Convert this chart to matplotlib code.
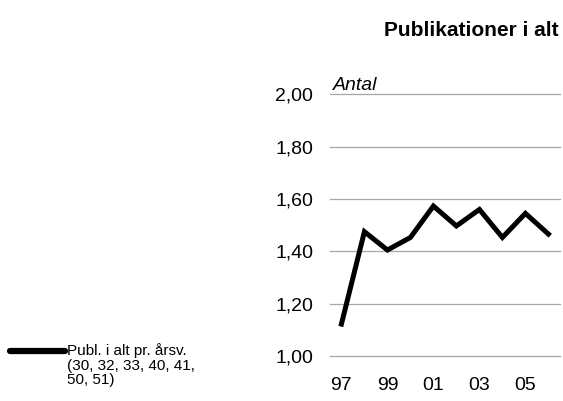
import matplotlib
matplotlib.use("Agg")
import matplotlib.pyplot as plt
from matplotlib.lines import Line2D

plt.rcParams['font.family'] = ['Liberation Sans', 'DejaVu Sans']

years = ["97", "98", "99", "00", "01", "02", "03", "04", "05", "06"]
values = [1.122, 1.475, 1.405, 1.453, 1.573, 1.497, 1.560, 1.453, 1.545, 1.466]
tick_labels = ["97", "99", "01", "03", "05"]
yticks = [1.0, 1.2, 1.4, 1.6, 1.8, 2.0]
legend_label = "Publ. i alt pr. årsv.\n(30, 32, 33, 40, 41,\n50, 51)"

fig = plt.figure(figsize=(5.63, 4.01), dpi=100)
ax = fig.add_axes([0.586, 0.1122, 0.4085, 0.6526])
x = list(range(len(years)))
ax.plot(x, values, color="black", lw=3.6, solid_joinstyle="miter", zorder=3)
ax.set_xlim(-0.5, len(years) - 0.5)
ax.set_ylim(1.0, 2.0)
ax.set_yticks(yticks)
ax.set_yticklabels([f"{v:.2f}".replace(".", ",") for v in yticks], fontsize=14)
ax.set_xticks([years.index(t) for t in tick_labels])
ax.set_xticklabels(tick_labels, fontsize=14)
ax.tick_params(length=0)
ax.tick_params(axis="y", pad=12)
ax.tick_params(axis="x", pad=15)
ax.grid(axis="y", color="#a6a6a6", lw=0.9)
for gl in ax.yaxis.get_gridlines():
    gl.set_clip_on(False)
for s in ax.spines.values():
    s.set_visible(False)

fig.text(0.592, 0.788, "Antal", fontsize=14, style="italic", ha="left", va="center")
fig.text(0.993, 0.925, "Publikationer i alt", fontsize=15, fontweight="bold",
         ha="right", va="center")

# legend key
fig.add_artist(Line2D([0.018, 0.115], [1 - 351 / 401, 1 - 351 / 401],
                      transform=fig.transFigure, color="black", lw=4.5,
                      solid_capstyle="round"))
fig.text(0.119, 1 - 343 / 401, legend_label, fontsize=11, ha="left", va="top",
         linespacing=1.05)

fig.savefig("out.png", dpi=100)
